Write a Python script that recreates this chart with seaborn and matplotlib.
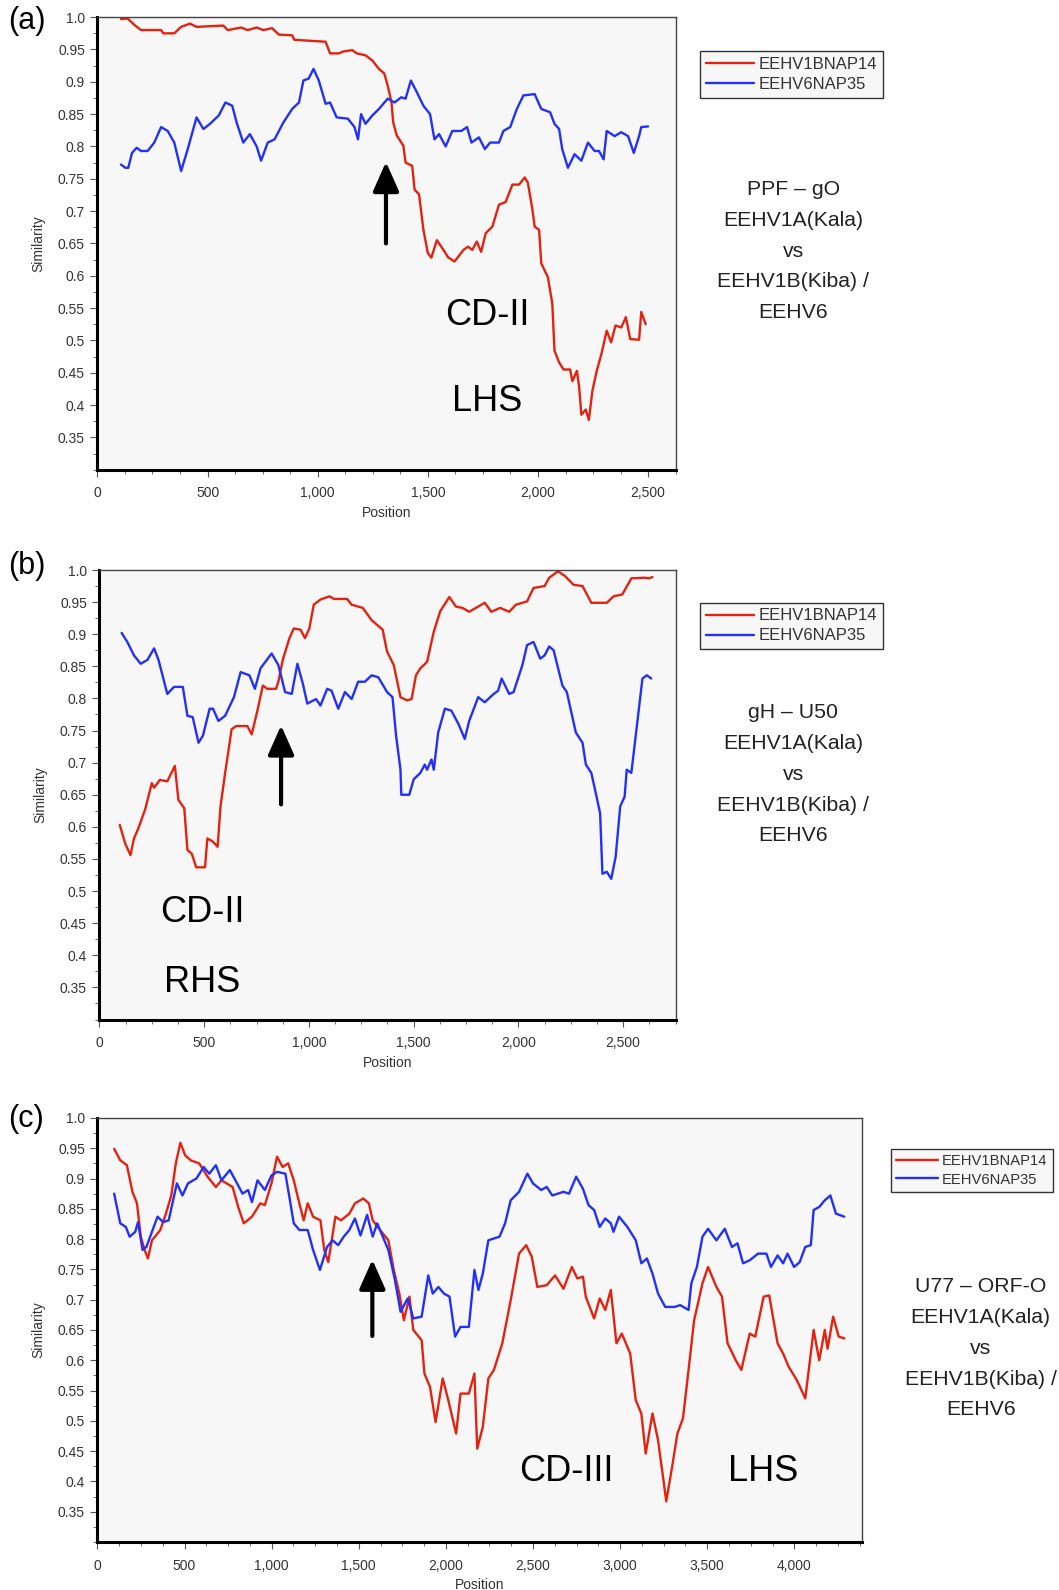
import numpy as np
import pandas as pd
import matplotlib.pyplot as plt
import matplotlib.ticker as mticker
import seaborn as sns

# series names and colours
names = ['EEHV1BNAP14', 'EEHV6NAP35']
pal = {'EEHV1BNAP14': '#e3220f', 'EEHV6NAP35': '#2230f8'}

# (position, similarity)
a_red = [(107, .997), (137, .998), (168, .988), (198, .980), (289, .980), (299, .975), (349, .975),
         (380, .985), (420, .990), (450, .985), (571, .987), (592, .980), (652, .984), (682, .980),
         (723, .984), (753, .980), (793, .983), (824, .973), (884, .972), (894, .965), (1036, .962),
         (1056, .944), (1096, .944), (1117, .947), (1157, .949), (1177, .944), (1217, .941),
         (1248, .933), (1278, .920), (1302, .913), (1318, .894), (1335, .868), (1343, .837),
         (1359, .817), (1389, .801), (1399, .775), (1429, .770), (1440, .733), (1460, .726),
         (1480, .671), (1500, .635), (1516, .628), (1541, .655), (1571, .640), (1591, .629),
         (1621, .622), (1662, .640), (1682, .645), (1702, .640), (1722, .653), (1742, .637),
         (1763, .666), (1793, .676), (1823, .710), (1853, .714), (1884, .741), (1914, .741),
         (1940, .752), (1954, .744), (1975, .702), (1985, .676), (2005, .671), (2015, .619),
         (2045, .598), (2065, .557), (2075, .484), (2096, .466), (2116, .455), (2146, .455),
         (2156, .437), (2177, .453), (2187, .427), (2197, .385), (2217, .393), (2231, .377),
         (2247, .422), (2267, .453), (2288, .479), (2312, .515), (2332, .497), (2352, .523),
         (2378, .520), (2399, .536), (2419, .502), (2459, .501), (2469, .544), (2489, .525)]
a_blue = [(107, .772), (127, .767), (140, .767), (157, .790), (178, .798), (198, .793), (228, .793),
          (258, .806), (289, .830), (319, .824), (349, .806), (380, .762), (410, .796), (450, .845),
          (481, .827), (511, .835), (551, .848), (581, .868), (612, .863), (632, .837), (662, .806),
          (692, .819), (723, .800), (743, .778), (773, .806), (804, .811), (844, .837), (884, .858),
          (915, .868), (935, .902), (959, .905), (981, .920), (1005, .902), (1036, .866),
          (1056, .868), (1086, .845), (1137, .843), (1167, .830), (1183, .811), (1197, .850),
          (1217, .835), (1248, .848), (1278, .858), (1318, .874), (1349, .868), (1379, .876),
          (1399, .874), (1423, .902), (1450, .884), (1480, .863), (1510, .850), (1530, .811),
          (1551, .819), (1581, .800), (1611, .824), (1652, .824), (1678, .830), (1698, .806),
          (1732, .814), (1759, .796), (1783, .806), (1823, .806), (1843, .824), (1874, .830),
          (1904, .858), (1934, .879), (1985, .881), (2015, .858), (2055, .853), (2075, .835),
          (2096, .827), (2110, .796), (2136, .767), (2166, .788), (2197, .778), (2227, .806),
          (2257, .793), (2277, .793), (2298, .780), (2312, .824), (2348, .816), (2378, .822),
          (2409, .816), (2435, .790), (2459, .816), (2469, .830), (2500, .831)]

b_red = [(97, .603), (123, .574), (148, .556), (165, .582), (186, .598), (218, .627), (250, .668),
         (261, .661), (288, .673), (324, .671), (360, .695), (377, .642), (405, .629), (420, .564),
         (441, .558), (462, .537), (504, .537), (515, .582), (542, .577), (564, .569), (578, .632),
         (600, .684), (631, .752), (653, .757), (706, .757), (727, .744), (754, .781), (780, .820),
         (801, .815), (843, .815), (854, .826), (875, .860), (907, .894), (928, .909), (960, .907),
         (981, .894), (1002, .909), (1023, .946), (1055, .954), (1098, .959), (1119, .955),
         (1182, .955), (1204, .946), (1257, .941), (1299, .922), (1352, .907), (1373, .873),
         (1405, .852), (1437, .802), (1468, .797), (1490, .799), (1511, .836), (1532, .847),
         (1564, .857), (1596, .904), (1627, .936), (1670, .958), (1702, .943), (1733, .941),
         (1765, .935), (1797, .941), (1839, .949), (1871, .935), (1913, .941), (1956, .935),
         (1988, .946), (2041, .951), (2072, .972), (2125, .975), (2147, .988), (2189, .998),
         (2221, .991), (2263, .977), (2306, .975), (2348, .949), (2422, .949), (2454, .959),
         (2496, .962), (2539, .987), (2602, .988), (2623, .987), (2640, .989)]
b_blue = [(106, .902), (133, .888), (165, .867), (197, .854), (229, .860), (261, .878), (282, .860),
          (324, .807), (356, .818), (398, .818), (420, .773), (445, .771), (473, .731), (494, .742),
          (526, .784), (542, .784), (568, .765), (600, .773), (642, .802), (674, .841), (716, .836),
          (742, .815), (769, .847), (822, .870), (854, .852), (886, .810), (918, .807), (945, .854),
          (971, .823), (992, .792), (1034, .799), (1055, .789), (1087, .815), (1108, .812),
          (1140, .784), (1172, .810), (1204, .799), (1235, .826), (1267, .826), (1299, .836),
          (1331, .833), (1373, .810), (1399, .802), (1416, .742), (1437, .689), (1441, .650),
          (1479, .650), (1500, .674), (1532, .684), (1553, .697), (1564, .689), (1585, .705),
          (1596, .689), (1617, .747), (1649, .784), (1680, .781), (1714, .760), (1744, .737),
          (1765, .765), (1808, .802), (1839, .794), (1882, .807), (1903, .812), (1920, .831),
          (1956, .807), (1977, .810), (2019, .852), (2041, .883), (2072, .888), (2104, .862),
          (2125, .867), (2147, .881), (2168, .875), (2210, .820), (2231, .810), (2274, .747),
          (2306, .731), (2322, .697), (2348, .684), (2369, .653), (2390, .621), (2401, .527),
          (2422, .530), (2443, .519), (2464, .553), (2486, .632), (2507, .647), (2517, .689),
          (2539, .684), (2560, .742), (2592, .831), (2613, .836), (2634, .831)]

c_red = [(96, .949), (131, .930), (169, .922), (201, .878), (227, .859), (249, .804), (271, .782),
         (290, .768), (313, .798), (361, .815), (393, .842), (424, .872), (450, .925), (476, .959),
         (504, .938), (536, .930), (584, .925), (632, .903), (680, .886), (712, .897), (776, .886),
         (808, .853), (840, .826), (887, .837), (935, .859), (961, .856), (999, .892), (1031, .936),
         (1063, .919), (1095, .925), (1127, .897), (1159, .859), (1184, .831), (1207, .859),
         (1238, .837), (1280, .831), (1302, .782), (1325, .762), (1366, .837), (1398, .831),
         (1446, .842), (1478, .859), (1526, .867), (1558, .859), (1580, .831), (1622, .815),
         (1670, .798), (1701, .749), (1733, .710), (1759, .666), (1791, .705), (1813, .650),
         (1861, .633), (1877, .578), (1909, .556), (1941, .498), (1982, .570), (2014, .534),
         (2059, .479), (2084, .545), (2132, .545), (2164, .578), (2180, .454), (2212, .490),
         (2244, .570), (2276, .584), (2324, .628), (2372, .699), (2420, .776), (2461, .790),
         (2493, .771), (2525, .721), (2579, .724), (2627, .740), (2675, .718), (2723, .754),
         (2755, .735), (2787, .738), (2803, .705), (2851, .669), (2883, .702), (2915, .683),
         (2947, .716), (2979, .628), (3010, .644), (3058, .611), (3090, .534), (3122, .512),
         (3147, .446), (3186, .512), (3218, .468), (3249, .402), (3265, .367), (3297, .421),
         (3329, .479), (3361, .504), (3393, .584), (3425, .666), (3473, .727), (3505, .754),
         (3553, .721), (3585, .705), (3617, .628), (3664, .600), (3696, .584), (3744, .644),
         (3776, .639), (3824, .705), (3856, .707), (3904, .628), (3936, .611), (3968, .589),
         (4015, .567), (4063, .537), (4111, .650), (4143, .600), (4175, .650), (4191, .619),
         (4223, .672), (4255, .639), (4287, .636)]
c_blue = [(96, .875), (131, .826), (163, .820), (185, .804), (217, .812), (233, .828), (259, .782),
          (281, .787), (313, .812), (345, .837), (377, .828), (409, .831), (456, .892), (488, .872),
          (520, .892), (568, .900), (610, .919), (642, .908), (680, .922), (712, .897), (760, .914),
          (792, .897), (833, .875), (865, .881), (887, .861), (919, .897), (961, .881), (999, .905),
          (1031, .911), (1079, .908), (1095, .881), (1127, .826), (1159, .815), (1207, .815),
          (1238, .782), (1277, .749), (1318, .787), (1350, .798), (1382, .790), (1414, .804),
          (1446, .815), (1478, .834), (1510, .806), (1548, .840), (1580, .804), (1606, .826),
          (1638, .804), (1670, .782), (1708, .732), (1740, .680), (1781, .702), (1813, .669),
          (1861, .672), (1899, .740), (1925, .710), (1957, .721), (1989, .710), (2021, .705),
          (2053, .639), (2084, .655), (2132, .655), (2164, .749), (2187, .716), (2212, .743),
          (2244, .798), (2308, .804), (2340, .826), (2372, .864), (2420, .878), (2468, .908),
          (2500, .892), (2547, .881), (2579, .886), (2611, .872), (2675, .878), (2707, .875),
          (2748, .903), (2787, .883), (2819, .856), (2851, .848), (2883, .820), (2915, .834),
          (2947, .826), (2962, .812), (2994, .837), (3042, .820), (3090, .798), (3122, .760),
          (3154, .768), (3186, .743), (3218, .710), (3259, .688), (3313, .688), (3345, .691),
          (3393, .683), (3409, .727), (3441, .754), (3473, .804), (3505, .817), (3553, .798),
          (3601, .817), (3642, .787), (3674, .793), (3706, .760), (3744, .765), (3792, .776),
          (3840, .776), (3866, .754), (3904, .773), (3936, .760), (3961, .776), (3999, .754),
          (4031, .762), (4063, .787), (4095, .790), (4111, .848), (4143, .853), (4175, .864),
          (4207, .872), (4239, .842), (4287, .837)]

# axis ranges and ticks
x_max = [2625, 2750, 4390]
y_ticks = [1.0, 0.95, 0.9, 0.85, 0.8, 0.75, 0.7, 0.65, 0.6, 0.55, 0.5, 0.45, 0.4, 0.35]
y_ticklabels = ['1.0', '0.95', '0.9', '0.85', '0.8', '0.75', '0.7', '0.65', '0.6', '0.55',
                '0.5', '0.45', '0.4', '0.35']

# annotations
panel_tags = ['(a)', '(b)', '(c)']
side_texts = ['PPF \u2013 gO\nEEHV1A(Kala)\nvs\nEEHV1B(Kiba) /\nEEHV6',
              'gH \u2013 U50\nEEHV1A(Kala)\nvs\nEEHV1B(Kiba) /\nEEHV6',
              'U77 \u2013 ORF-O\nEEHV1A(Kala)\nvs\nEEHV1B(Kiba) /\nEEHV6']
region_labels = [[('CD-II', 1768, 0.538), ('LHS', 1768, 0.405)],
                 [('CD-II', 489, 0.466), ('RHS', 489, 0.358)],
                 [('CD-III', 2690, 0.417), ('LHS', 3819, 0.417)]]
arrows = [(1310, 0.650, 0.776), (867, 0.635, 0.758), (1578, 0.640, 0.766)]

sns.set_style("white")
plt.rcParams['font.family'] = ['Liberation Sans', 'DejaVu Sans']

fig = plt.figure(figsize=(10.59, 15.90), dpi=100)

# layout (figure fractions)
rects = [[0.092, 0.7046, 0.546, 0.2846],
         [0.0939, 0.3588, 0.544, 0.2827],
         [0.092, 0.0302, 0.7222, 0.2667]]
legend_anchor = [(0.661, 0.968), (0.661, 0.621), (0.841, 0.2774)]
legend_size = [12, 12, 10.6]
side_pos = [(0.749, 0.842), (0.749, 0.513), (0.926, 0.152)]
tag_pos = [(0.008, 0.987), (0.008, 0.644), (0.008, 0.296)]

all_data = [(a_red, a_blue), (b_red, b_blue), (c_red, c_blue)]

for i, (red, blue) in enumerate(all_data):
    ax = fig.add_axes(rects[i])
    ax.set_facecolor('#f7f7f7')
    df = pd.concat([pd.DataFrame(red, columns=['Position', 'Similarity']).assign(seq=names[0]),
                    pd.DataFrame(blue, columns=['Position', 'Similarity']).assign(seq=names[1])])
    sns.lineplot(data=df, x='Position', y='Similarity', hue='seq', hue_order=names,
                 palette=pal, estimator=None, linewidth=1.7, legend=False, ax=ax)

    ax.set_xlim(0, x_max[i])
    ax.set_ylim(0.3, 1.0)
    ax.xaxis.set_major_locator(mticker.MultipleLocator(500))
    ax.xaxis.set_minor_locator(mticker.MultipleLocator(125))
    ax.xaxis.set_major_formatter(mticker.FuncFormatter(lambda v, _: f'{int(v):,}'))
    ax.set_yticks(y_ticks)
    ax.set_yticklabels(y_ticklabels)
    ax.yaxis.set_minor_locator(mticker.MultipleLocator(0.025))
    ax.tick_params(which='both', direction='out', colors='#555555', labelcolor='#333333',
                   labelsize=10, bottom=True, left=True)
    ax.tick_params(which='major', length=5, width=0.8)
    ax.tick_params(axis='x', which='major', pad=7)
    ax.tick_params(axis='y', which='major', pad=4)
    ax.tick_params(which='minor', length=3, width=0.6)
    ax.set_xlabel('Position', fontsize=10, color='#333333', labelpad=4)
    ax.set_ylabel('Similarity', fontsize=10, color='#333333', labelpad=9)
    for s in ['left', 'bottom']:
        ax.spines[s].set_color('black')
        ax.spines[s].set_linewidth(2.2)
    for s in ['top', 'right']:
        ax.spines[s].set_color('#444444')
        ax.spines[s].set_linewidth(1.0)

    leg = ax.legend(ax.get_lines()[:2], names, loc='upper left',
                    bbox_to_anchor=legend_anchor[i], bbox_transform=fig.transFigure,
                    fontsize=legend_size[i], frameon=True, fancybox=False, edgecolor='#333333',
                    facecolor='#f7f7f7', framealpha=1, handlelength=2.9, handletextpad=0.25,
                    labelspacing=0.3, borderpad=0.35, borderaxespad=0)
    leg.get_frame().set_linewidth(1.0)
    for t in leg.get_texts():
        t.set_color('#333333')

    for label, x, y in region_labels[i]:
        ax.text(x, y, label, fontsize=26, ha='center', va='center', color='black')

    xa, y0, y1 = arrows[i]
    ax.annotate('', xy=(xa, y1), xytext=(xa, y0),
                arrowprops=dict(arrowstyle='-|>,head_width=0.4,head_length=0.9',
                                lw=3, color='black', mutation_scale=20,
                                shrinkA=0, shrinkB=0))

    fig.text(side_pos[i][0], side_pos[i][1], side_texts[i], fontsize=15.3, ha='center',
             va='center', linespacing=1.78, color='#222222')
    fig.text(tag_pos[i][0], tag_pos[i][1], panel_tags[i], fontsize=22, ha='left',
             va='center', color='black')

fig.savefig('out.png', dpi=100)
